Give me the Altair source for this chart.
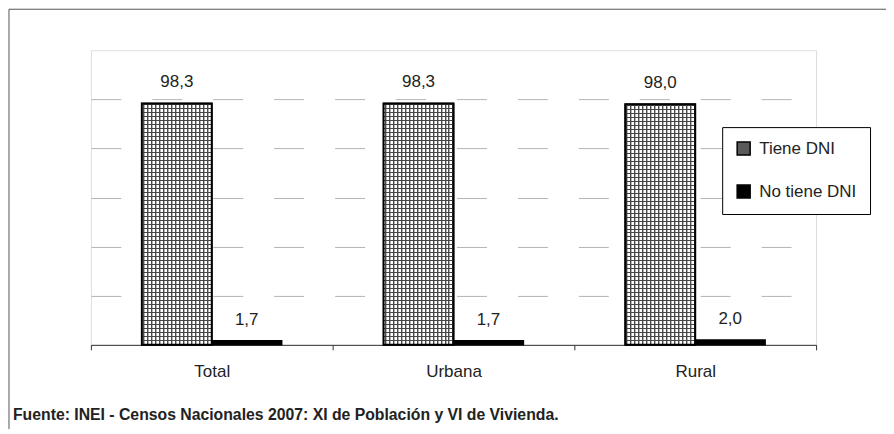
import altair as alt
import pandas as pd

# ---- data ----
categorias = ["Total", "Urbana", "Rural"]
series = ["Tiene DNI", "No tiene DNI"]
tiene_dni = [98.3, 98.3, 98.0]
no_tiene_dni = [1.7, 1.7, 2.0]
fuente = "Fuente: INEI - Censos Nacionales 2007: XI de Población y VI de Vivienda."

rows = []
for c, a, b in zip(categorias, tiene_dni, no_tiene_dni):
    rows.append({"area": c, "serie": series[0], "valor": a})
    rows.append({"area": c, "serie": series[1], "valor": b})
df = pd.DataFrame(rows)

FONT = "Liberation Sans"
W, H = 726, 295
BAR_W = 70.0

# ---- hatch pattern for "Tiene DNI" built as striped gradients (style only) ----
def stripes(length, period, pieces, horizontal):
    stops = []
    n = int(length // period) + 1
    for k in range(n):
        base = k * period
        for start, width, col, bg in pieces:
            s = (base + start) / length
            e = (base + start + width) / length
            if s > 1:
                continue
            e = min(e, 1)
            stops += [alt.GradientStop(offset=s, color=bg),
                      alt.GradientStop(offset=s, color=col),
                      alt.GradientStop(offset=e, color=col),
                      alt.GradientStop(offset=e, color=bg)]
    if horizontal:
        return alt.LinearGradient(gradient="linear", stops=stops, x1=0, x2=0, y1=0, y2=1)
    return alt.LinearGradient(gradient="linear", stops=stops, x1=0, x2=1, y1=0, y2=0)

vert = stripes(BAR_W, 4, [(1, 1, "#4a4a4a", "#ffffff"), (2, 1, "#b5b5b5", "#ffffff")], False)
horiz = stripes(242, 4, [(1, 1, "rgba(70,70,70,1)", "rgba(70,70,70,0)")], True)

x_enc = alt.X("area:N", sort=categorias,
              scale=alt.Scale(domain=categorias, paddingInner=0, paddingOuter=0),
              axis=alt.Axis(title=None, labelAngle=0, tickBand="extent", ticks=True,
                            tickSize=5, tickColor="#333333", domainColor="#333333",
                            domainWidth=1, labelFont=FONT, labelFontSize=17,
                            labelColor="#222222", labelPadding=14))
xo_enc = alt.XOffset("serie:N", sort=series,
                     scale=alt.Scale(domain=series, paddingInner=0, paddingOuter=0.7286))
y_enc = alt.Y("valor:Q", scale=alt.Scale(domain=[0, 120], nice=False),
              axis=alt.Axis(title=None, values=[20, 40, 60, 80, 100], labels=False,
                            ticks=False, domain=False, grid=True, gridColor="#b4b4b4",
                            gridDash=[30, 31], gridWidth=1))

base = alt.Chart(df)

bars = base.mark_bar(stroke="black", strokeWidth=1.5).encode(
    x=x_enc, xOffset=xo_enc, y=y_enc,
    color=alt.Color("serie:N", sort=series,
                    scale=alt.Scale(domain=series, range=["#5a5a5a", "#000000"]),
                    legend=alt.Legend(title=None, orient="none", legendX=632, legendY=77,
                                      padding=13, strokeColor="#000000", fillColor="#ffffff",
                                      symbolType="square", symbolSize=169,
                                      symbolStrokeColor="#000000", symbolStrokeWidth=1.5,
                                      labelFont=FONT, labelFontSize=17, labelColor="#222222",
                                      labelOffset=7, rowPadding=24, labelLimit=200)),
)

tiene = base.transform_filter(alt.datum.serie == series[0])
hatch_v = tiene.mark_bar(fill=vert, strokeWidth=0).encode(x=x_enc, xOffset=xo_enc, y=y_enc)
hatch_h = tiene.mark_bar(fill=horiz, strokeWidth=0).encode(x=x_enc, xOffset=xo_enc, y=y_enc)
outline = tiene.mark_bar(fillOpacity=0, stroke="black", strokeWidth=2).encode(
    x=x_enc, xOffset=xo_enc, y=y_enc)

labels = base.transform_calculate(
    label="replace(format(datum.valor, '.1f'), '.', ',')"
).mark_text(dy=-21, font=FONT, fontSize=17, color="#222222").encode(
    x=x_enc, xOffset=xo_enc, y=y_enc, text="label:N")

one = pd.DataFrame({"t": [fuente]})
frame_top = alt.Chart(one).mark_rule(color="#555555", strokeWidth=1).encode(
    x=alt.value(-82), x2=alt.value(812), y=alt.value(-41))
frame_left = alt.Chart(one).mark_rule(color="#555555", strokeWidth=1).encode(
    x=alt.value(-82), y=alt.value(-41), y2=alt.value(390))
source = alt.Chart(one).mark_text(align="left", baseline="middle", font=FONT,
                                  fontSize=15.8, fontWeight="bold", color="#222222").encode(
    x=alt.value(-78), y=alt.value(365), text="t:N")

chart = alt.layer(bars, hatch_v, hatch_h, outline, labels, frame_top, frame_left, source).properties(
    width=W, height=H,
    autosize=alt.AutoSizeParams(type="none"),
    padding={"left": 83, "top": 42, "right": 70, "bottom": 84},
).configure_view(stroke="#808080", strokeWidth=2).configure(background="white")

chart.save("out.html", embed_options={"renderer": "svg", "actions": False})
